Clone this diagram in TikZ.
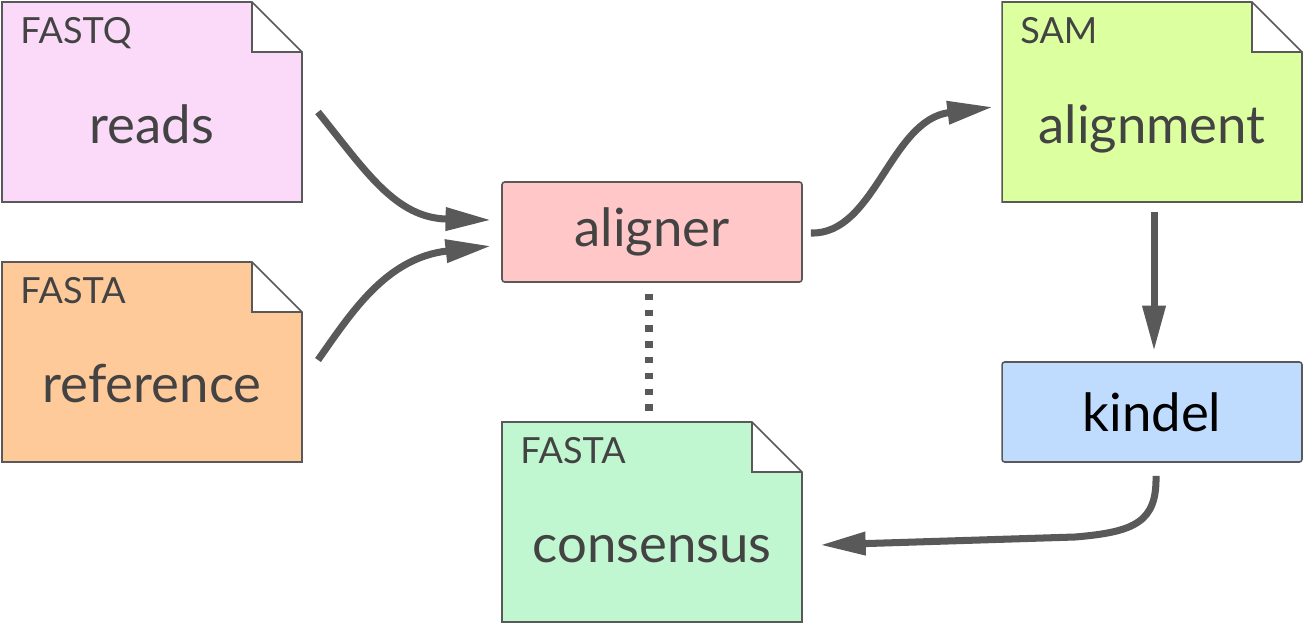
\documentclass[tikz,border=0pt]{standalone}
\usepackage{fontspec}
\setmainfont{Lato}
\usetikzlibrary{arrows.meta}

\definecolor{ink}{HTML}{434343}
\definecolor{edge}{HTML}{595959}
\definecolor{readsfill}{HTML}{FADAF8}
\definecolor{reffill}{HTML}{FFCA99}
\definecolor{alnfill}{HTML}{FFC7C7}
\definecolor{samfill}{HTML}{DCFFA0}
\definecolor{kindelfill}{HTML}{BFDCFF}
\definecolor{consfill}{HTML}{C0F7D0}

\tikzset{
  doc/.style={minimum width=6cm, minimum height=4cm, inner sep=0pt, outer sep=0pt},
  proc/.style={draw=edge, line width=0.9pt, rounded corners=1.5pt, minimum width=6cm,
    minimum height=2cm, inner sep=0pt, font=\fontsize{30}{36}\selectfont},
  tag/.style={anchor=base west, inner sep=0pt, text=ink, font=\fontsize{20.5}{24}\selectfont},
  title/.style={anchor=base, inner sep=0pt, text=ink, font=\fontsize{30}{36}\selectfont},
  flow/.style={draw=edge, line width=4pt, -{Triangle[length=26pt,width=12.5pt]}},
  dots/.style={draw=edge, line width=4.2pt, dash pattern=on 3.6pt off 5.4pt}
}

\begin{document}
\begin{tikzpicture}[x=0.02cm, y=-0.02cm]
  \useasboundingbox (0,0) rectangle (1304,626);

  % files
  \node[doc] (reads) at (152,102) {};
  \node[doc] (ref) at (152,362) {};
  \node[doc] (sam) at (1152,102) {};
  \node[doc] (cons) at (652,522) {};
  \foreach \d/\c in {reads/readsfill, ref/reffill, sam/samfill, cons/consfill}
    \filldraw[draw=edge, line width=0.9pt, fill=\c] (\d.north west) -- ([shift={(-50,0)}]\d.north east)
      -- ([shift={(0,50)}]\d.north east) -- (\d.south east) -- (\d.south west) -- cycle
      ([shift={(-50,0)}]\d.north east) |- ([shift={(0,50)}]\d.north east);

  \node[tag] (reads-tag) at ([shift={(18,41)}]reads.north west) {FASTQ};
  \node[tag] (ref-tag) at ([shift={(18,41)}]ref.north west) {FASTA};
  \node[tag] (sam-tag) at ([shift={(18,41)}]sam.north west) {SAM};
  \node[tag] (cons-tag) at ([shift={(18,41)}]cons.north west) {FASTA};

  \node[title] (reads-title) at ([shift={(0,41)}]reads.center) {reads};
  \node[title] (ref-title) at ([shift={(0,40)}]ref.center) {reference};
  \node[title] (sam-title) at ([shift={(0,41)}]sam.center) {alignment};
  \node[title] (cons-title) at ([shift={(0,40)}]cons.center) {consensus};

  % tools
  \node[proc, fill=alnfill, text=ink] (aligner) at (652,232) {aligner};
  \node[proc, fill=kindelfill, text=black] (kindel) at (1152,412) {kindel};

  % connectors
  \draw[flow] ([shift={(16,10)}]reads.east) .. controls (365,170) and (395,218) .. ([shift={(-10,-12)}]aligner.west);
  \draw[flow] ([shift={(16,-2)}]ref.east) .. controls (350,315) and (385,258) .. ([shift={(-10,14)}]aligner.west);
  \draw[flow] ([shift={(8,1)}]aligner.east) .. controls (875,235) and (890,120) .. ([shift={(-9,5)}]sam.west);
  \draw[flow] ([shift={(2,10)}]sam.south) -- ([shift={(2,-10)}]kindel.north);
  \draw[flow] ([shift={(4,13)}]kindel.south) .. controls (1157,522) and (1135,532) .. (1075,537)
    -- ([shift={(18,23)}]cons.east);
  \draw[dots] ([shift={(-3,11)}]aligner.south) -- ([shift={(-3,-10)}]cons.north);
\end{tikzpicture}
\end{document}
